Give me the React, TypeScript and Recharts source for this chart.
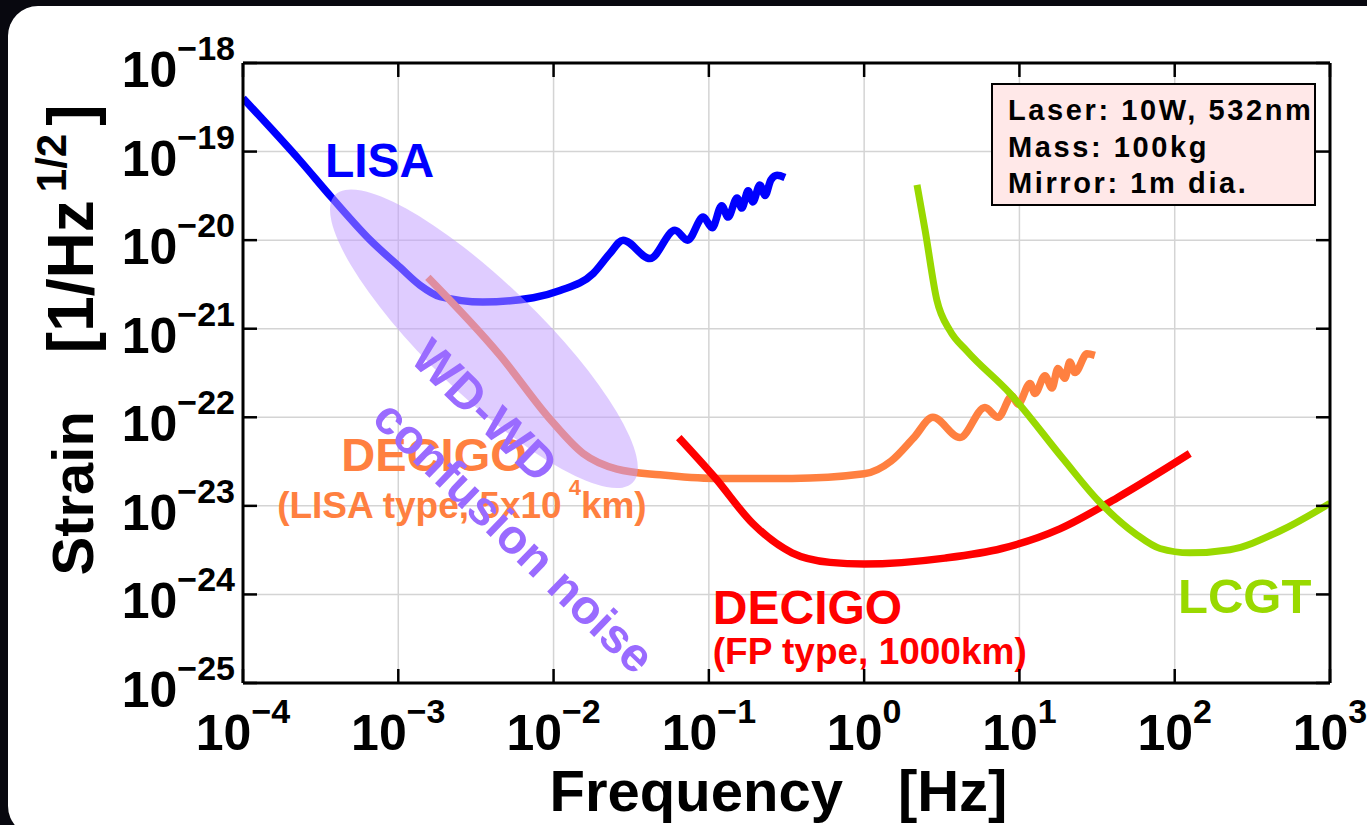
import React from "react";
import { ComposedChart, Line, Scatter, XAxis, YAxis, CartesianGrid, Label } from "recharts";

const FONT = "'Liberation Sans', Arial, Helvetica, sans-serif";

// frequency [Hz] vs strain [1/Hz^1/2]
const lisa = [
  { f: 1.0e-4, h: 4.0e-19 },
  { f: 2.33e-4, h: 7.9e-20 },
  { f: 3.74e-4, h: 3.0e-20 },
  { f: 6.6e-4, h: 1.0e-20 },
  { f: 1.03e-3, h: 4.9e-21 },
  { f: 1.38e-3, h: 3.1e-21 },
  { f: 1.86e-3, h: 2.3e-21 },
  { f: 3.5e-3, h: 2.0e-21 },
  { f: 7.4e-3, h: 2.24e-21 },
  { f: 1.1e-2, h: 2.7e-21 },
  { f: 1.8e-2, h: 4.2e-21 },
  { f: 2.31e-2, h: 7.1e-21 },
  { f: 2.8e-2, h: 1.0e-20 },
  { f: 4.18e-2, h: 6.2e-21 },
  { f: 6.05e-2, h: 1.29e-20 },
  { f: 7.3e-2, h: 1.0e-20 },
  { f: 9.2e-2, h: 1.82e-20 },
  { f: 0.105, h: 1.38e-20 },
  { f: 0.121, h: 2.45e-20 },
  { f: 0.133, h: 1.82e-20 },
  { f: 0.152, h: 3.0e-20 },
  { f: 0.163, h: 2.3e-20 },
  { f: 0.179, h: 3.6e-20 },
  { f: 0.192, h: 2.7e-20 },
  { f: 0.213, h: 4.2e-20 },
  { f: 0.23, h: 3.2e-20 },
  { f: 0.251, h: 4.8e-20 },
  { f: 0.275, h: 5.4e-20 },
  { f: 0.309, h: 5.1e-20 },
];

const decigoLisaType = [
  { f: 1.55e-3, h: 3.8e-21 },
  { f: 4.52e-3, h: 5.0e-22 },
  { f: 9.5e-3, h: 9.5e-23 },
  { f: 1.55e-2, h: 3.9e-23 },
  { f: 2.56e-2, h: 2.6e-23 },
  { f: 4.84e-2, h: 2.24e-23 },
  { f: 0.109, h: 2.04e-23 },
  { f: 0.343, h: 2.04e-23 },
  { f: 1.0, h: 2.3e-23 },
  { f: 1.49, h: 3.2e-23 },
  { f: 2.09, h: 5.9e-23 },
  { f: 2.77, h: 1.0e-22 },
  { f: 4.14, h: 5.9e-23 },
  { f: 6.0, h: 1.29e-22 },
  { f: 7.3, h: 1.0e-22 },
  { f: 8.95, h: 1.74e-22 },
  { f: 9.8, h: 1.41e-22 },
  { f: 11.7, h: 2.4e-22 },
  { f: 12.6, h: 1.86e-22 },
  { f: 14.6, h: 2.95e-22 },
  { f: 16.2, h: 2.14e-22 },
  { f: 17.7, h: 3.55e-22 },
  { f: 19.6, h: 2.75e-22 },
  { f: 21.1, h: 4.2e-22 },
  { f: 22.8, h: 3.2e-22 },
  { f: 27.2, h: 5.2e-22 },
  { f: 30.6, h: 5.0e-22 },
];

const decigoFp = [
  { f: 6.4e-2, h: 5.9e-23 },
  { f: 0.109, h: 2.1e-23 },
  { f: 0.192, h: 6.3e-24 },
  { f: 0.343, h: 2.95e-24 },
  { f: 0.603, h: 2.3e-24 },
  { f: 1.0, h: 2.2e-24 },
  { f: 3.31, h: 2.57e-24 },
  { f: 7.7, h: 3.3e-24 },
  { f: 18.2, h: 5.5e-24 },
  { f: 42.5, h: 1.23e-23 },
  { f: 125, h: 3.9e-23 },
];

const lcgt = [
  { f: 2.19, h: 4.2e-20 },
  { f: 2.47, h: 1.29e-20 },
  { f: 2.94, h: 2.1e-21 },
  { f: 3.57, h: 9.5e-22 },
  { f: 4.59, h: 5.6e-22 },
  { f: 8.69, h: 1.86e-22 },
  { f: 19.1, h: 3.4e-23 },
  { f: 32.1, h: 1.15e-23 },
  { f: 56.2, h: 4.8e-24 },
  { f: 80.4, h: 3.3e-24 },
  { f: 125, h: 2.95e-24 },
  { f: 227, h: 3.2e-24 },
  { f: 476, h: 5.2e-24 },
  { f: 1000, h: 1.07e-23 },
];

const xTicks = [1e-4, 1e-3, 1e-2, 1e-1, 1, 10, 100, 1000];
const xTickExps = ["\u22124", "\u22123", "\u22122", "\u22121", "0", "1", "2", "3"];
const yTicks = [1e-25, 1e-24, 1e-23, 1e-22, 1e-21, 1e-20, 1e-19, 1e-18];
const yTickExps = ["\u221225", "\u221224", "\u221223", "\u221222", "\u221221", "\u221220", "\u221219", "\u221218"];

// annotation anchors (data coordinates)
const wdNoiseAt = { f: 3.56e-3, h: 7.7e-22 };
const wdTitleAt = { f: 3.03e-3, h: 8.7e-23 };
const wdSubAt = { f: 4.7e-3, h: 3.3e-24 };
const lisaNameAt = { f: 3.37e-4, h: 5.1e-20 };
const lisaTypeNameAt = { f: 4.3e-4, h: 2.5e-23 };
const lisaTypeSubAt = { f: 1.66e-4, h: 7.3e-24 };
const fpNameAt = { f: 0.106, h: 4.6e-25 };
const fpSubAt = { f: 0.106, h: 1.63e-25 };
const lcgtNameAt = { f: 105, h: 6.2e-25 };

const specs = ["Laser: 10W, 532nm", "Mass: 100kg", "Mirror: 1m dia."];

const BLUE = "#0000ff";
const ORANGE = "#ff8040";
const RED = "#ff0000";
const GREEN = "#99d900";
const PURPLE = "#9a6bff";

const bold = { fontFamily: FONT, fontWeight: 700 } as const;

const XTick = (props: any) => {
  const { x, y, index } = props;
  return (
    <g>
      <line x1={x} y1={y} x2={x} y2={y - 14} stroke="#000" strokeWidth={2.5} />
      <text x={x} y={y + 67} textAnchor="middle" style={bold} fill="#000">
        <tspan fontSize={50}>10</tspan>
        <tspan fontSize={34} dy={-27}>{xTickExps[index]}</tspan>
      </text>
    </g>
  );
};

const XTopTick = (props: any) => (
  <line x1={props.x} y1={props.y} x2={props.x} y2={props.y + 14} stroke="#000" strokeWidth={2.5} />
);

const YTick = (props: any) => {
  const { x, y, index } = props;
  return (
    <g>
      <line x1={x} y1={y} x2={x + 14} y2={y} stroke="#000" strokeWidth={2.5} />
      <text x={x - 8} y={y + 24} textAnchor="end" style={bold} fill="#000">
        <tspan fontSize={50}>10</tspan>
        <tspan fontSize={34} dy={-27}>{yTickExps[index]}</tspan>
      </text>
    </g>
  );
};

const YRightTick = (props: any) => (
  <line x1={props.x} y1={props.y} x2={props.x - 14} y2={props.y} stroke="#000" strokeWidth={2.5} />
);

const XTitle = (props: any) => {
  const vb = props.viewBox;
  return (
    <text x={vb.x + vb.width / 2 - 8} y={vb.y + 128} textAnchor="middle" style={bold} fontSize={58} fill="#000">
      Frequency<tspan dx={55}>[Hz]</tspan>
    </text>
  );
};

const YTitle = (props: any) => {
  const vb = props.viewBox;
  const cx = vb.x + vb.width - 150;
  const cy = vb.y + vb.height / 2 - 33;
  return (
    <text x={cx} y={cy} transform={`rotate(-90 ${cx} ${cy})`} textAnchor="middle" style={bold} fontSize={58} fill="#000">
      Strain<tspan dx={58} fontSize={64}>[1/Hz</tspan>
      <tspan fontSize={42} dx={8} dy={-27}>1/2</tspan>
      <tspan fontSize={64} dx={8} dy={27}>]</tspan>
    </text>
  );
};

// a single-point scatter whose marker is custom svg
const note = (key: string, at: { f: number; h: number }, draw: (cx: number, cy: number) => React.ReactElement) => (
  <Scatter
    key={key}
    data={[at]}
    isAnimationActive={false}
    shape={(p: any) => draw(p.cx, p.cy)}
  />
);

const frame = { stroke: "#000", strokeWidth: 3 };

export default function App() {
  return (
    <div style={{ position: "relative", width: 1367, height: 825, background: "#08080f", overflow: "hidden" }}>
      <style>{`body{margin:0}`}</style>
      <div style={{ position: "absolute", left: 8, top: 6, width: 1420, height: 830, background: "#fff", borderRadius: 30 }} />
      <div style={{ position: "absolute", left: 0, top: 0 }}>
        <ComposedChart width={1367} height={825} margin={{ top: 43, right: 17, bottom: 82, left: 183 }}>
          <CartesianGrid stroke="#d4d4d4" strokeWidth={1.5} />
          <XAxis
            dataKey="f"
            type="number"
            scale="log"
            domain={[1e-4, 1e3]}
            ticks={xTicks}
            interval={0}
            allowDataOverflow
            height={60}
            tickSize={0}
            tickMargin={0}
            tickLine={false}
            axisLine={frame}
            tick={<XTick />}
          >
            <Label content={<XTitle />} />
          </XAxis>
          <XAxis
            xAxisId="top"
            orientation="top"
            dataKey="f"
            type="number"
            scale="log"
            domain={[1e-4, 1e3]}
            ticks={xTicks}
            interval={0}
            allowDataOverflow
            height={20}
            tickSize={0}
            tickMargin={0}
            tickLine={false}
            axisLine={frame}
            tick={<XTopTick />}
          />
          <YAxis
            dataKey="h"
            type="number"
            scale="log"
            domain={[1e-25, 1e-18]}
            ticks={yTicks}
            interval={0}
            allowDataOverflow
            width={60}
            tickSize={0}
            tickMargin={0}
            tickLine={false}
            axisLine={frame}
            tick={<YTick />}
          >
            <Label content={<YTitle />} />
          </YAxis>
          <YAxis
            yAxisId="right"
            orientation="right"
            dataKey="h"
            type="number"
            scale="log"
            domain={[1e-25, 1e-18]}
            ticks={yTicks}
            interval={0}
            allowDataOverflow
            width={20}
            tickSize={0}
            tickMargin={0}
            tickLine={false}
            axisLine={frame}
            tick={<YRightTick />}
          />

          <Line data={lisa} dataKey="h" type="monotone" stroke={BLUE} strokeWidth={7.5} dot={false} isAnimationActive={false} />
          <Line data={decigoLisaType} dataKey="h" type="monotone" stroke={ORANGE} strokeWidth={7.5} dot={false} isAnimationActive={false} />
          <Line data={decigoFp} dataKey="h" type="monotone" stroke={RED} strokeWidth={7.5} dot={false} isAnimationActive={false} />
          <Line data={lcgt} dataKey="h" type="monotone" stroke={GREEN} strokeWidth={7} dot={false} isAnimationActive={false} />

          {note("lisa", lisaNameAt, (x, y) => (
            <text x={x} y={y} style={bold} fontSize={48} fill={BLUE}>LISA</text>
          ))}
          {note("ltName", lisaTypeNameAt, (x, y) => (
            <text x={x} y={y} style={bold} fontSize={47} fill={ORANGE}>DECIGO</text>
          ))}
          {note("ltSub", lisaTypeSubAt, (x, y) => (
            <text x={x} y={y} style={bold} fontSize={37} fill={ORANGE}>
              (LISA type, 5x10<tspan fontSize={22} dx={7} dy={-23}>4</tspan>
              <tspan dy={23}>km)</tspan>
            </text>
          ))}
          {note("fpName", fpNameAt, (x, y) => (
            <text x={x} y={y} style={bold} fontSize={48} fill={RED}>DECIGO</text>
          ))}
          {note("fpSub", fpSubAt, (x, y) => (
            <text x={x} y={y} style={bold} fontSize={37} fill={RED}>(FP type, 1000km)</text>
          ))}
          {note("lcgt", lcgtNameAt, (x, y) => (
            <text x={x} y={y} style={bold} fontSize={49} fill={GREEN}>LCGT</text>
          ))}
          {note("wdCloud", wdNoiseAt, (x, y) => (
            <ellipse cx={x} cy={y} rx={207} ry={56} transform={`rotate(44 ${x} ${y})`} fill="#c099ff" fillOpacity={0.5} />
          ))}
          {note("wdTitle", wdTitleAt, (x, y) => (
            <text x={x} y={y} transform={`rotate(44 ${x} ${y})`} textAnchor="middle" style={bold} fontSize={49} fill={PURPLE}>WD-WD</text>
          ))}
          {note("wdSub", wdSubAt, (x, y) => (
            <text x={x} y={y} transform={`rotate(44 ${x} ${y})`} textAnchor="middle" style={bold} fontSize={48} fill={PURPLE}>confusion noise</text>
          ))}
        </ComposedChart>
      </div>
      <div
        style={{
          position: "absolute",
          left: 991,
          top: 83,
          width: 325,
          height: 123,
          boxSizing: "border-box",
          border: "2px solid #000",
          background: "#ffe8e8",
          padding: "7px 0 0 15px",
          fontFamily: FONT,
          fontWeight: 700,
          fontSize: 29,
          letterSpacing: 2.6,
          color: "#000",
        }}
      >
        {specs.map((s) => (
          <div key={s} style={{ height: 36.5, lineHeight: "36.5px", whiteSpace: "nowrap" }}>{s}</div>
        ))}
      </div>
    </div>
  );
}
